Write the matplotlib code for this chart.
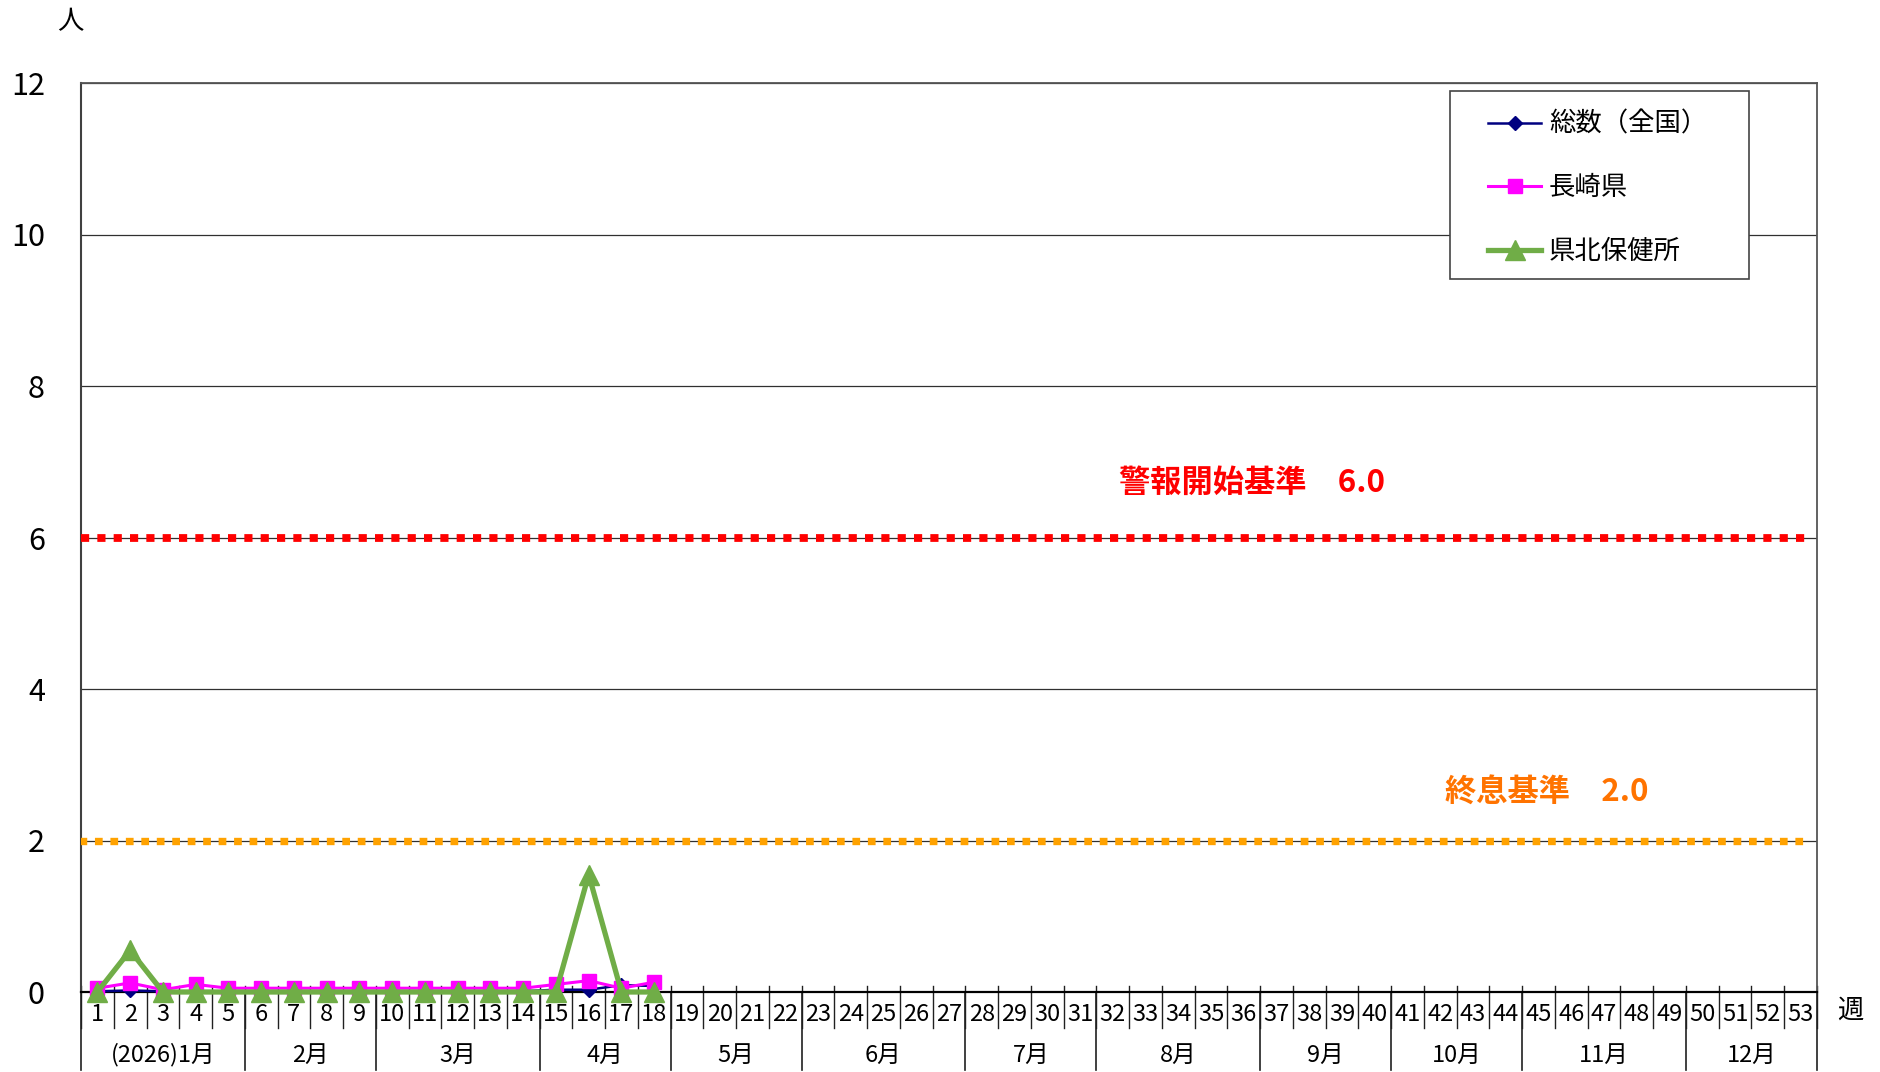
import numpy as np
import matplotlib
matplotlib.use("Agg")
import matplotlib.pyplot as plt
from matplotlib.patches import Rectangle

plt.rcParams["font.family"] = ["Noto Sans CJK JP", "DejaVu Sans"]

# data
weeks = list(range(1, 54))
n_obs = 18
zenkoku = [0.01, 0.02, 0.01, 0.01, 0.01, 0.01, 0.01, 0.01, 0.01, 0.01,
           0.01, 0.01, 0.01, 0.01, 0.03, 0.03, 0.09, 0.08]
nagasaki = [0.05, 0.12, 0.03, 0.1, 0.05, 0.05, 0.05, 0.05, 0.05, 0.05,
            0.05, 0.05, 0.05, 0.05, 0.1, 0.15, 0.05, 0.13]
kenpoku = [0.0, 0.55, 0.0, 0.0, 0.0, 0.0, 0.0, 0.0, 0.0, 0.0,
           0.0, 0.0, 0.0, 0.0, 0.0, 1.55, 0.0, 0.0]
series_names = ["総数（全国）", "長崎県", "県北保健所"]
alarm_level = 6.0
end_level = 2.0
months = ["(2026)1月", "2月", "3月", "4月", "5月", "6月", "7月", "8月", "9月", "10月", "11月", "12月"]
month_weeks = [5, 4, 5, 4, 4, 5, 4, 5, 4, 4, 5, 4]

fig = plt.figure(figsize=(18.81, 10.72), dpi=100)
ax = fig.add_axes([81/1881, 1-992/1072, (1817-81)/1881, (992-83)/1072])

ax.set_xlim(0.5, 53.5)
ax.set_ylim(0, 12)
ax.set_yticks(np.arange(0, 13, 2))
ax.tick_params(axis="y", length=0, pad=26, labelsize=22)
ax.set_xticks([])
ax.yaxis.grid(True, color="#303030", lw=0.9)
ax.set_axisbelow(True)
for s in ["top", "right"]:
    ax.spines[s].set_color("#555555")
    ax.spines[s].set_linewidth(1.3)
ax.spines["left"].set_color("#404040")
ax.spines["left"].set_linewidth(1.5)
ax.spines["bottom"].set_color("black")
ax.spines["bottom"].set_linewidth(1.6)

# reference lines
ax.plot([0.5, 53.3], [alarm_level, alarm_level], color="#FF0000", lw=5.6,
        linestyle=(0, (1.05, 1.05)), dash_capstyle="butt", zorder=3)
ax.plot([0.45, 53.3], [end_level, end_level], color="#FFA200", lw=5.3,
        linestyle=(0, (1.05, 1.05)), dash_capstyle="butt", zorder=3)
ax.text(32.2, 6.72, "警報開始基準　6.0", color="#FF0000", fontsize=22.5, fontweight="bold",
        va="center", ha="left")
ax.text(42.15, 2.63, "終息基準　2.0", color="#FF7300", fontsize=22.5, fontweight="bold",
        va="center", ha="left")

x = weeks[:n_obs]
l1, = ax.plot(x, zenkoku, color="#000080", lw=1.8, marker="D", ms=7.5, zorder=4, clip_on=False)
l2, = ax.plot(x, nagasaki, color="#FF00FF", lw=2.2, marker="s", ms=10.5, zorder=5, clip_on=False)
l3, = ax.plot(x, kenpoku, color="#70AD47", lw=3.8, marker="^", ms=15, zorder=6, clip_on=False)

# legend in a square box
ax.add_patch(Rectangle((0.7886, 0.784), 0.961-0.7886, 0.991-0.784, transform=ax.transAxes,
                       facecolor="white", edgecolor="#444444", lw=1.2, zorder=7))
leg = ax.legend([l1, l2, l3], series_names, loc="upper left", bbox_to_anchor=(0.806, 0.978),
                frameon=False, handlelength=2.0, handletextpad=0.3,
                labelspacing=1.38, borderpad=0.3, borderaxespad=0, markerscale=0.95,
                prop={"size": 19})
leg.set_zorder(8)

# week/month axis
tr = ax.get_xaxis_transform()
for b in np.arange(0.5, 54, 1.0):
    ax.plot([b, b], [0.0066, -0.0396], transform=tr, color="#202020", lw=1.0, clip_on=False)
edges = np.concatenate([[0], np.cumsum(month_weeks)]) + 0.5
for e in edges:
    ax.plot([e, e], [0, -0.0858], transform=tr, color="#202020", lw=1.2, clip_on=False)
for w in weeks:
    ax.text(w, -0.0253, str(w), transform=tr, ha="center", va="center", fontsize=17)
for i, m in enumerate(months):
    ax.text((edges[i] + edges[i+1]) / 2, -0.0693, m, transform=tr, ha="center", va="center", fontsize=17)

fig.text(70/1881, 1-22/1072, "人", ha="center", va="center", fontsize=19)
fig.text(1850/1881, 1-1010/1072, "週", ha="center", va="center", fontsize=19)

fig.savefig("out.png", dpi=100)
